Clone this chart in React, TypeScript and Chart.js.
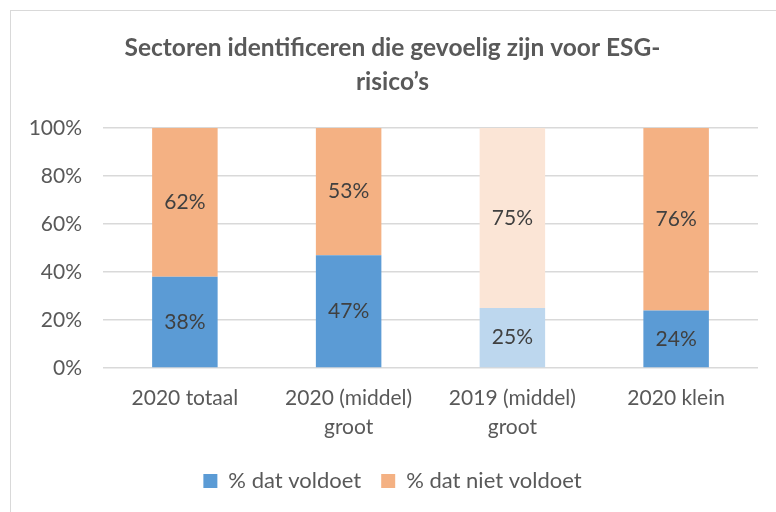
import React, { useEffect, useRef } from "react";
import { Chart, registerables } from "chart.js";

Chart.register(...registerables);

const categories: (string | string[])[] = [
  "2020 totaal",
  ["2020 (middel)", "groot"],
  ["2019 (middel)", "groot"],
  "2020 klein",
];
const voldoet = [38, 47, 25, 24];
const nietVoldoet = [62, 53, 75, 76];
const voldoetColors = ["#5B9BD5", "#5B9BD5", "#BDD7EE", "#5B9BD5"];
const nietVoldoetColors = ["#F4B183", "#F4B183", "#FBE5D6", "#F4B183"];
const seriesNames = ["% dat voldoet", "% dat niet voldoet"];
const titleLines = ["Sectoren identificeren die gevoelig zijn voor ESG-", "risico\u2019s"];

const FONT = "Lato, 'Open Sans', sans-serif";

const labelPlugin = {
  id: "segLabels",
  afterDatasetsDraw(chart: any) {
    const ctx = chart.ctx;
    ctx.save();
    ctx.font = `21px ${FONT}`;
    ctx.fillStyle = "#404040";
    ctx.textAlign = "center";
    ctx.textBaseline = "middle";
    chart.data.datasets.forEach((ds: any, i: number) => {
      const meta = chart.getDatasetMeta(i);
      meta.data.forEach((el: any, j: number) => {
        const v = ds.data[j];
        const y = (el.y + el.base) / 2;
        ctx.fillText(`${v}%`, el.x, y);
      });
    });
    ctx.restore();
  },
};

export default function App() {
  const ref = useRef<HTMLCanvasElement>(null);
  useEffect(() => {
    if (!ref.current) return;
    const chart = new Chart(ref.current, {
      type: "bar",
      data: {
        labels: categories as any,
        datasets: [
          { label: seriesNames[0], data: voldoet, backgroundColor: voldoetColors, borderWidth: 0, barPercentage: 0.4, categoryPercentage: 1 },
          { label: seriesNames[1], data: nietVoldoet, backgroundColor: nietVoldoetColors, borderWidth: 0, barPercentage: 0.4, categoryPercentage: 1 },
        ],
      },
      options: {
        animation: false,
        responsive: false,
        maintainAspectRatio: false,
        layout: { padding: { left: 27, right: 18, top: 31, bottom: 10 } },
        plugins: {
          title: {
            display: true,
            text: titleLines,
            color: "#595959",
            font: { family: FONT, size: 24.5, weight: "bold", lineHeight: 34 / 24.5 },
            padding: { top: 0, bottom: 29 },
          },
          legend: {
            position: "bottom",
            labels: {
              color: "#595959",
              font: { family: FONT, size: 22 },
              boxWidth: 14,
              boxHeight: 14,
              padding: 20,
              generateLabels: () => [
                { text: seriesNames[0], fillStyle: voldoetColors[0], strokeStyle: voldoetColors[0], lineWidth: 0, datasetIndex: 0, fontColor: "#595959" },
                { text: seriesNames[1], fillStyle: nietVoldoetColors[0], strokeStyle: nietVoldoetColors[0], lineWidth: 0, datasetIndex: 1, fontColor: "#595959" },
              ] as any,
            },
          },
          tooltip: { enabled: false },
        },
        scales: {
          x: {
            stacked: true,
            grid: { display: false },
            border: { display: false },
            ticks: { color: "#595959", font: { family: FONT, size: 21, lineHeight: 29 / 21 }, padding: 8, maxRotation: 0 },
          },
          y: {
            stacked: true,
            min: 0,
            max: 100,
            grid: { color: "#D9D9D9", drawTicks: false, lineWidth: 1.5 },
            border: { display: false },
            afterFit: (scale: any) => {
              scale.width = 76;
            },
            ticks: {
              stepSize: 20,
              color: "#595959",
              font: { family: FONT, size: 21 },
              padding: 21,
              callback: (v: any) => `${v}%`,
            },
          },
        },
      },
      plugins: [labelPlugin],
    });
    return () => chart.destroy();
  }, []);
  return (
    <div style={{ position: "fixed", left: 0, top: 0, width: 776, height: 512, background: "#fff", overflow: "hidden" }}>
      <div style={{ position: "absolute", left: 10, top: 10, width: 800, height: 600, border: "1px solid #D9D9D9", boxSizing: "border-box" }} />
      <canvas ref={ref} width={776} height={512} style={{ position: "absolute", left: 0, top: 0 }} />
    </div>
  );
}
